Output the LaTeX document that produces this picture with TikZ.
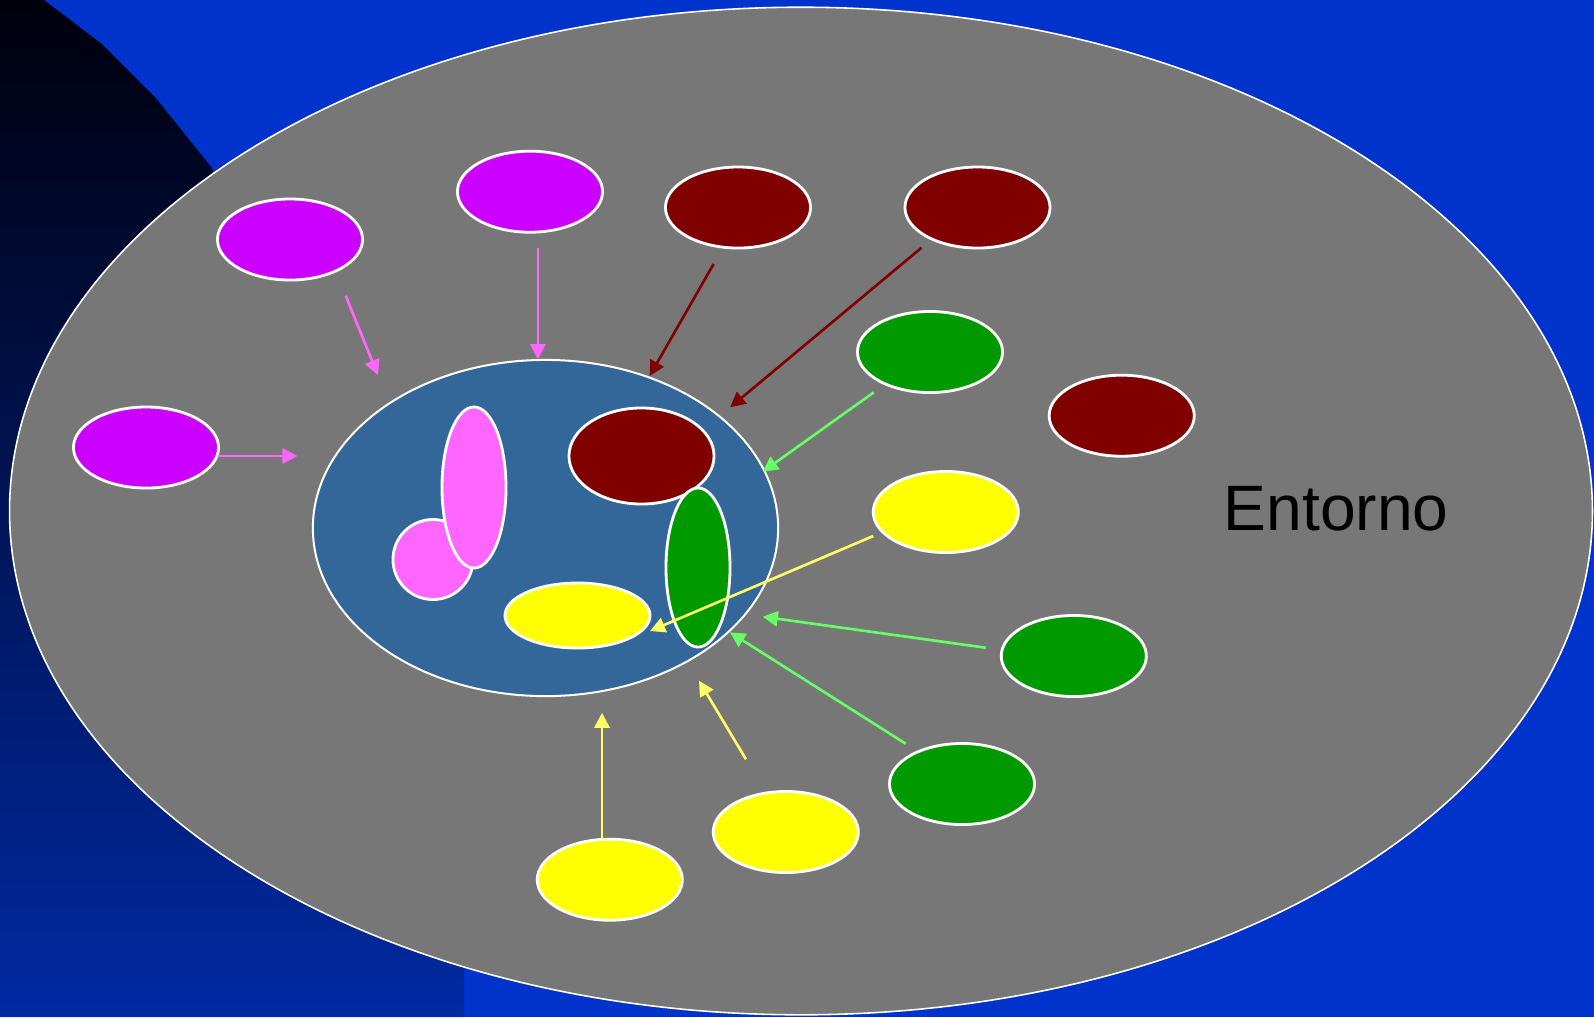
\documentclass[tikz,border=0pt]{standalone}
\usepackage{fontspec}
\setmainfont{Liberation Sans}
\usetikzlibrary{shapes.geometric,arrows.meta}

\definecolor{bgblue}{RGB}{0,51,204}
\definecolor{shadetop}{RGB}{0,0,12}
\definecolor{shadebot}{RGB}{0,42,162}
\definecolor{envgray}{RGB}{119,119,119}
\definecolor{cellblue}{RGB}{51,102,153}
\definecolor{violet}{RGB}{204,0,255}
\definecolor{maroon}{RGB}{128,0,0}
\definecolor{leaf}{RGB}{0,153,0}
\definecolor{lemon}{RGB}{255,255,0}
\definecolor{rose}{RGB}{255,102,255}
\definecolor{lightgreen}{RGB}{102,255,102}
\definecolor{paleyellow}{RGB}{255,255,102}

\begin{document}
\begin{tikzpicture}[x=0.01cm,y=-0.01cm,
  blob/.style={ellipse, draw=white, line width=0.8pt, inner sep=0pt,
               minimum width=1.45cm, minimum height=0.81cm},
  part/.style={ellipse, draw=white, line width=0.8pt, inner sep=0pt},
  flow/.style={line width=0.75pt, -{Triangle[length=4.3pt,width=4.3pt]}},
]
\useasboundingbox (0,0) rectangle (1594,1017);

% backdrop
\fill[bgblue] (0,0) rectangle (1594,1017);
\shade[top color=shadetop, bottom color=shadebot]
  (0,0) -- (44,0) -- (103,45) -- (155,97) -- (212,168) -- (464,900)
  -- (464,1017) -- (0,1017) -- cycle;

% environment
\node[ellipse, draw=white, line width=0.45pt, fill=envgray, inner sep=0pt,
      minimum width=15.82cm, minimum height=10.07cm] (env) at (801,511) {};
\node[anchor=base west, inner sep=0pt, font=\fontsize{18.25}{22}\selectfont]
  (lbl) at (1223,530) {Entorno};

% system
\node[ellipse, draw=white, line width=0.57pt, fill=cellblue, inner sep=0pt,
      minimum width=4.65cm, minimum height=3.36cm] (sys) at (545.5,528) {};
\node[circle, draw=white, line width=0.8pt, fill=rose, inner sep=0pt,
      minimum size=0.80cm] (sc) at (433,559.5) {};
\node[part, fill=rose, minimum width=0.64cm, minimum height=1.61cm] (sp) at (474,487.5) {};
\node[part, fill=maroon, minimum width=1.45cm, minimum height=0.96cm] (sr) at (641.5,456) {};
\node[part, fill=leaf, minimum width=0.64cm, minimum height=1.59cm] (sg) at (698,567.5) {};
\node[part, fill=lemon, minimum width=1.45cm, minimum height=0.65cm] (sy) at (577.5,615.5) {};

% surrounding elements
\node[blob, fill=violet] (pA) at (290,239.5) {};
\node[blob, fill=violet] (pB) at (530,191.7) {};
\node[blob, fill=violet] (pC) at (146,447.5) {};
\node[blob, fill=maroon] (rA) at (738,207.5) {};
\node[blob, fill=maroon] (rB) at (977.5,207.5) {};
\node[blob, fill=maroon] (rC) at (1121.7,415.7) {};
\node[blob, fill=leaf] (gA) at (930,352) {};
\node[blob, fill=leaf] (gB) at (1073.8,656) {};
\node[blob, fill=leaf] (gC) at (962,784) {};
\node[blob, fill=lemon] (yA) at (945.8,512) {};
\node[blob, fill=lemon] (yB) at (609.8,879.7) {};
\node[blob, fill=lemon] (yC) at (785.8,832) {};

% arrow ends
\coordinate (pCs) at (218,456);     \coordinate (pCe) at (297.5,456);
\coordinate (pAs) at (345.7,295.7); \coordinate (pAe) at (377.9,375);
\coordinate (pBs) at (537.9,247.7); \coordinate (pBe) at (537.9,359.3);
\coordinate (rAs) at (713.6,264);   \coordinate (rAe) at (649.6,376);
\coordinate (rBs) at (921.5,247.7); \coordinate (rBe) at (730.2,407.3);
\coordinate (gAs) at (873.8,392.3); \coordinate (gAe) at (762.8,471.7);
\coordinate (yAs) at (873.3,536);   \coordinate (yAe) at (650,631);
\coordinate (gBs) at (985.7,647.7); \coordinate (gBe) at (762.7,616.7);
\coordinate (gCs) at (905.7,743.7); \coordinate (gCe) at (730,632.3);
\coordinate (yBs) at (602,839.3);   \coordinate (yBe) at (602,712.7);
\coordinate (yCs) at (746,759.3);   \coordinate (yCe) at (699,680.7);

% flows into the system
\draw[flow, rose] (pCs) -- (pCe);
\draw[flow, rose] (pAs) -- (pAe);
\draw[flow, rose] (pBs) -- (pBe);
\draw[flow, maroon] (rAs) -- (rAe);
\draw[flow, maroon] (rBs) -- (rBe);
\draw[flow, lightgreen] (gAs) -- (gAe);
\draw[flow, paleyellow] (yAs) -- (yAe);
\draw[flow, lightgreen] (gBs) -- (gBe);
\draw[flow, lightgreen] (gCs) -- (gCe);
\draw[flow, paleyellow] (yBs) -- (yBe);
\draw[flow, paleyellow] (yCs) -- (yCe);
\end{tikzpicture}
\end{document}
